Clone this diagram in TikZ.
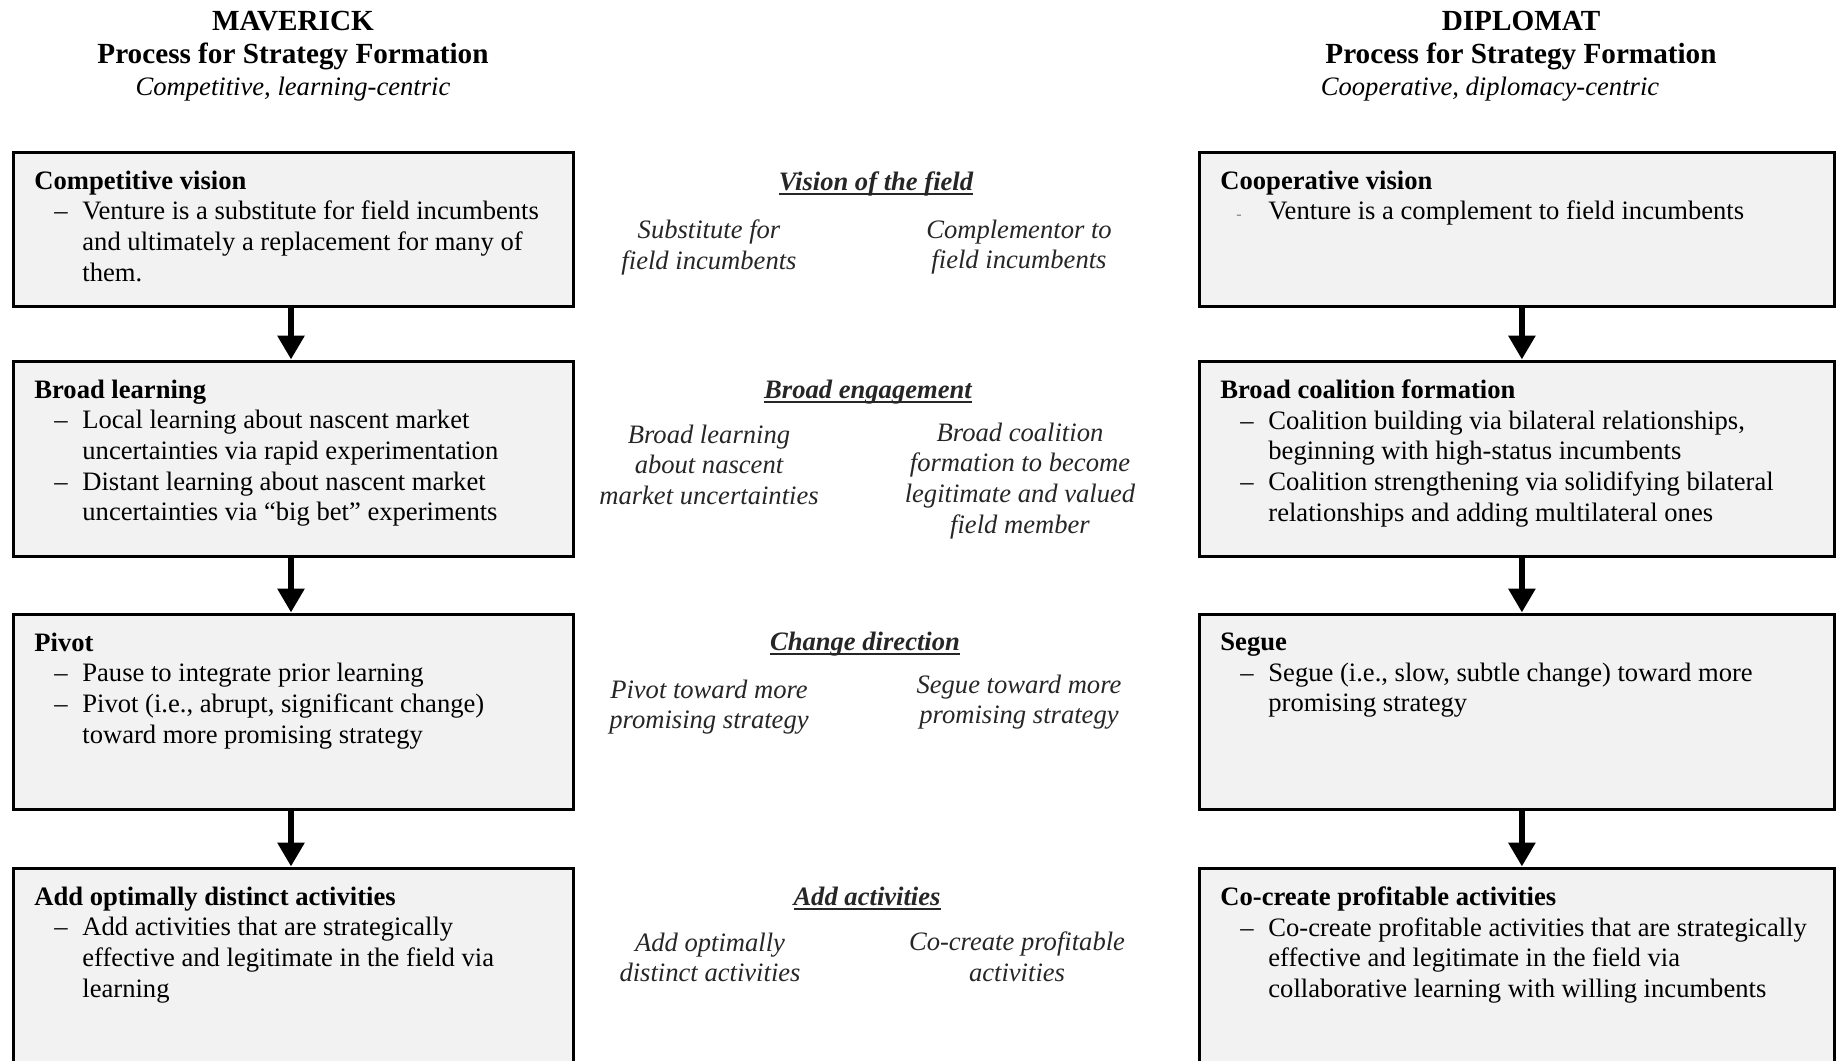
\documentclass[tikz,border=0pt]{standalone}
\usepackage{fontspec}
\setmainfont{Liberation Serif}
\usetikzlibrary{arrows.meta}
\definecolor{boxfill}{HTML}{F2F2F2}
\definecolor{midtext}{HTML}{262626}
\newcommand{\bitem}{\hspace*{10pt}\makebox[14pt][l]{\textendash}}
\newcommand{\bcont}{\hspace*{24pt}}
\newcommand{\headline}[1]{\setbox0\hbox{#1}\rlap{\rule[-2.6pt]{\wd0}{1.2pt}}\box0}
\tikzset{
  process box/.style={
    draw,
    line width=1.5pt,
    fill=boxfill,
    inner sep=0pt,
  },
  box text/.style={
    anchor=north west,
    align=left,
    inner sep=0pt,
    font=\fontsize{13.3pt}{15.3pt}\selectfont,
    execute at begin node=\rule{0pt}{10pt},
  },
  side title/.style={
    anchor=north,
    align=center,
    inner sep=0pt,
    font=\fontsize{14.6pt}{16.8pt}\selectfont\bfseries,
    execute at begin node=\rule{0pt}{11pt},
  },
  side sub/.style={
    anchor=base,
    inner sep=0pt,
    font=\fontsize{13.3pt}{15.3pt}\selectfont\itshape,
  },
  mid head/.style={
    anchor=base,
    inner sep=0pt,
    text=midtext,
    font=\fontsize{13.3pt}{15.3pt}\selectfont\bfseries\itshape,
  },
  mid text/.style={
    anchor=north,
    align=center,
    inner sep=0pt,
    text=midtext,
    font=\fontsize{13.3pt}{15.3pt}\selectfont\itshape,
    execute at begin node=\rule{0pt}{10pt},
  },
  flow/.style={
    -{Triangle[width=13pt,length=12pt]},
    line width=3pt,
  },
}

\begin{document}
\begin{tikzpicture}[x=0.5pt,y=-0.5pt]
        \useasboundingbox (0,0) rectangle (1840,1060);
        \clip (0,0) rectangle (1840,1060);

        % column titles
        \node[side title] (mav) at (293,10.5) {MAVERICK\\Process for Strategy Formation};
        \node[side sub] (mavsub) at (293,95) {Competitive, learning-centric};
        \node[side title] (dip) at (1521,10.5) {DIPLOMAT\\Process for Strategy Formation};
        \node[side sub] (dipsub) at (1490,95) {Cooperative, diplomacy-centric};

        % maverick boxes
        \node[process box, minimum width=280pt, minimum height=77pt]   (m1) at (293,229)   {};
        \node[process box, minimum width=280pt, minimum height=97.5pt] (m2) at (293,458.5) {};
        \node[process box, minimum width=280pt, minimum height=97.5pt] (m3) at (293,711.5) {};
        \node[process box, minimum width=280pt, minimum height=116pt]  (m4) at (293,984)   {};

        % diplomat boxes
        \node[process box, minimum width=317.5pt, minimum height=77pt]   (d1) at (1516.5,229)   {};
        \node[process box, minimum width=317.5pt, minimum height=97.5pt] (d2) at (1516.5,458.5) {};
        \node[process box, minimum width=317.5pt, minimum height=97.5pt] (d3) at (1516.5,711.5) {};
        \node[process box, minimum width=317.5pt, minimum height=116pt]  (d4) at (1516.5,984)   {};

        \node[box text] (m1t) at (34,170.5) {\textbf{Competitive vision}\\
          \bitem Venture is a substitute for field incumbents\\
          \bcont and ultimately a replacement for many of\\
          \bcont them.};
        \node[box text] (m2t) at (34,379.5) {\textbf{Broad learning}\\
          \bitem Local learning about nascent market\\
          \bcont uncertainties via rapid experimentation\\
          \bitem Distant learning about nascent market\\
          \bcont uncertainties via “big bet” experiments};
        \node[box text] (m3t) at (34,632.5) {\textbf{Pivot}\\
          \bitem Pause to integrate prior learning\\
          \bitem Pivot (i.e., abrupt, significant change)\\
          \bcont toward more promising strategy};
        \node[box text] (m4t) at (34,886.5) {\textbf{Add optimally distinct activities}\\
          \bitem Add activities that are strategically\\
          \bcont effective and legitimate in the field via\\
          \bcont learning};

        \node[box text] (d1t) at (1220,170.5) {\textbf{Cooperative vision}\\
          \hspace*{8pt}\makebox[16pt][l]{\textcolor{gray}{\fontsize{8pt}{8pt}\selectfont -}}Venture is a complement to field incumbents};
        \node[box text] (d2t) at (1220,379.5) {\textbf{Broad coalition formation}\\
          \bitem Coalition building via bilateral relationships,\\
          \bcont beginning with high-status incumbents\\
          \bitem Coalition strengthening via solidifying bilateral\\
          \bcont relationships and adding multilateral ones};
        \node[box text] (d3t) at (1220,632.5) {\textbf{Segue}\\
          \bitem Segue (i.e., slow, subtle change) toward more\\
          \bcont promising strategy};
        \node[box text] (d4t) at (1220,886.5) {\textbf{Co-create profitable activities}\\
          \bitem Co-create profitable activities that are strategically\\
          \bcont effective and legitimate in the field via\\
          \bcont collaborative learning with willing incumbents};

        % middle column
        \node[mid head] (h1) at (876,190) {\headline{Vision of the field}};
        \node[mid head] (h2) at (868,398) {\headline{Broad engagement}};
        \node[mid head] (h3) at (865,650) {\headline{Change direction}};
        \node[mid head] (h4) at (867,905) {\headline{Add activities}};

        \node[mid text] (h1l) at (709,219.5)  {Substitute for\\field incumbents};
        \node[mid text] (h1r) at (1019,219.5) {Complementor to\\field incumbents};
        \node[mid text] (h2l) at (709,424.5)  {Broad learning\\about nascent\\market uncertainties};
        \node[mid text] (h2r) at (1020,422.5) {Broad coalition\\formation to become\\legitimate and valued\\field member};
        \node[mid text] (h3l) at (709,679.5)  {Pivot toward more\\promising strategy};
        \node[mid text] (h3r) at (1019,674.5) {Segue toward more\\promising strategy};
        \node[mid text] (h4l) at (710,932.5)  {Add optimally\\distinct activities};
        \node[mid text] (h4r) at (1017,931.5) {Co-create profitable\\activities};

        \draw[flow, transform canvas={xshift=-1pt}] (m1) -- (m2);
        \draw[flow, transform canvas={xshift=-1pt}] (m2) -- (m3);
        \draw[flow, transform canvas={xshift=-1pt}] (m3) -- (m4);
        \draw[flow, transform canvas={xshift=2.7pt}] (d1) -- (d2);
        \draw[flow, transform canvas={xshift=2.7pt}] (d2) -- (d3);
        \draw[flow, transform canvas={xshift=2.7pt}] (d3) -- (d4);
\end{tikzpicture}
\end{document}
